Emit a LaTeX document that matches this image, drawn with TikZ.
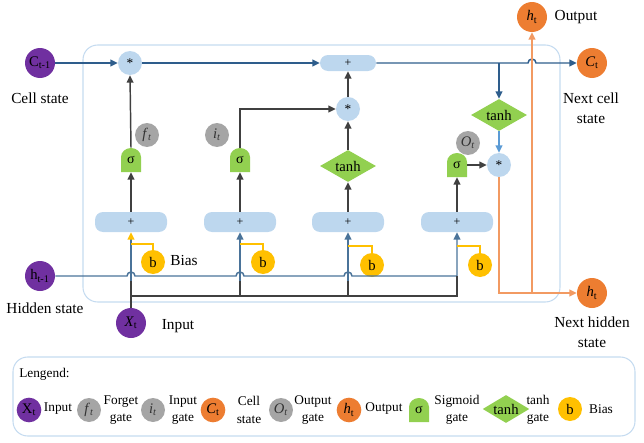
\documentclass[tikz,border=0pt]{standalone}
\usepackage{fontspec}
\setmainfont{Liberation Serif}
\usetikzlibrary{arrows.meta,shapes.geometric}
\definecolor{cpurple}{HTML}{7030A0}
\definecolor{corange}{HTML}{ED7D31}
\definecolor{cgray}{HTML}{A5A5A5}
\definecolor{clblue}{HTML}{BDD7EE}
\definecolor{cgreen}{HTML}{92D050}
\definecolor{cyellow}{HTML}{FFC000}
\definecolor{cbox}{HTML}{C5DBF0}
\definecolor{ccell}{HTML}{2E5D8C}
\definecolor{chid}{HTML}{4A7399}
\definecolor{cblack}{HTML}{404040}
\definecolor{carrowblue}{HTML}{5B9BD5}
\definecolor{corline}{HTML}{F29A62}
\newcommand\sigshape[2]{\fill[cgreen] (#1-10,#2+12) -- (#1-10,#2-3) arc(180:360:10 and 9) -- (#1+10,#2+12) -- cycle;}
\begin{document}
\begin{tikzpicture}[x=0.75pt,y=-0.75pt,
 tip/.style={-{Triangle[length=5.5pt,width=5pt]}},
 big/.style={circle,minimum size=22.5pt,inner sep=0pt,font=\fontsize{11}{12}\selectfont},
 gatec/.style={circle,minimum size=18pt,inner sep=0pt,fill=cgray,text=black!80,font=\fontsize{11}{12}\selectfont},
 opc/.style={circle,fill=clblue,minimum size=18pt,inner sep=0pt,font=\fontsize{10}{10}\selectfont},
 sumbox/.style={rectangle,rounded corners=6pt,fill=clblue,minimum width=#1,minimum height=15pt,inner sep=0pt,font=\fontsize{9}{10}\selectfont},
 sig/.style={minimum width=15pt,minimum height=18pt,inner sep=0pt,font=\fontsize{10.5}{11}\selectfont},
 dia/.style={diamond,aspect=1.75,fill=cgreen,minimum width=42pt,minimum height=24pt,inner sep=0pt,font=\fontsize{11}{12}\selectfont},
 bias/.style={circle,fill=cyellow,minimum size=18pt,inner sep=0pt,font=\fontsize{11}{12}\selectfont},
 lbl/.style={font=\fontsize{11.5}{15}\selectfont,align=center,inner sep=0pt},
 lgd/.style={font=\fontsize{10}{13}\selectfont,align=center,inner sep=0pt},
 cellln/.style={draw=ccell,line width=1.1pt},
 hidln/.style={draw=chid,line width=1.1pt},
 blk/.style={draw=cblack,line width=1.1pt},
 yel/.style={draw=cyellow,line width=0.9pt},
 org/.style={draw=corline,line width=1.1pt},
]
\useasboundingbox (0,0) rectangle (644,443);
% boxes
\draw[cbox,line width=0.8pt,rounded corners=11pt] (83,45) rectangle (560,302);
\draw[cbox,line width=0.8pt,rounded corners=11pt] (13,357) rectangle (635,436);

% outer nodes
\node[big,fill=cpurple] (ct1) at (40,63) {C\textsubscript{t-1}};
\node[lbl] (lcs) at (40,98) {Cell state};
\node[big,fill=cpurple] (hm1) at (40,276) {h\textsubscript{t-1}};
\node[lbl] (lhs) at (45,308) {Hidden state};
\node[big,fill=cpurple] (xt) at (131,323) {\textit{X}\textsubscript{t}};
\node[lbl] (lin) at (178,326) {Input};
\node[big,fill=corange] (ct) at (592,63) {\textit{C}\textsubscript{t}};
\node[lbl] (lnc) at (591,108) {Next cell\\state};
\node[big,fill=corange] (hto) at (532,17) {\textit{h}\textsubscript{t}};
\node[lbl] (lout) at (576,17) {Output};
\node[big,fill=corange] (htn) at (592,293) {\textit{h}\textsubscript{t}};
\node[lbl] (lnh) at (592,332) {Next hidden\\state};

% operations
\node[opc] (m1) at (130,63) {*};
\node[sumbox=42pt,minimum height=12pt] (plus) at (348,63) {+};
\node[opc] (m2) at (348,109) {*};
\node[dia] (th2) at (499,115) {tanh};
\node[opc] (m3) at (499,165) {*};
\node[gatec] (ot) at (468,143) {\textit{O}\textsubscript{\textit{t}}};
\node[gatec] (ft) at (147,135) {\textit{f}\textsubscript{\textit{t}}};
\node[gatec] (it) at (217,135) {\textit{i}\textsubscript{\textit{t}}};

\sigshape{131}{160}
\node[sig] (s1) at (131,160) {σ};
\sigshape{240}{160}
\node[sig] (s2) at (240,160) {σ};
\node[dia] (th1) at (348,166) {tanh};
\sigshape{457}{165}
\node[sig] (s3) at (457,165) {σ};

\node[sumbox=54pt] (p1) at (131,222) {+};
\node[sumbox=54pt] (p2) at (240,222) {+};
\node[sumbox=54pt] (p3) at (348,222) {+};
\node[sumbox=54pt] (p4) at (457,222) {+};

\node[bias] (b1) at (153,262) {b};
\node[bias] (b2) at (263,262) {b};
\node[bias] (b3) at (372,265) {b};
\node[bias] (b4) at (480,265) {b};
\node[lbl] (lbias) at (184,260) {Bias};

% junction coordinates
\coordinate (hy) at (0,276);
\coordinate (iy) at (0,296);
\coordinate (ty) at (0,281);

% cell state line
\draw[cellln,tip] (ct1.east) -- (m1.west);
\draw[cellln,tip] (m1.east) -- (plus.west);
\draw[cellln,tip] (plus.east) -- (528,63) arc(180:360:4) -- (ct.west);
\draw[cellln,tip] (th2.north |- plus) -- (th2.north);

% hidden state line
\draw[hidln,tip] (hm1.east) -- (127,276) arc(180:360:4) -- (236,276) arc(180:360:4) -- (344,276) arc(180:360:4) -- (p4.south |- hy) -- (p4.south);

% input lines
\draw[blk] (xt.north) -- (p1.south |- ty);
\draw[blk] (p1.south |- iy) -- (p4.south |- iy) -- (p4.south |- hy);
\draw[blk] (p2.south |- iy) -- (p2.south |- ty);
\draw[blk] (p3.south |- iy) -- (p3.south |- ty);
\draw[hidln,-{Triangle[length=5.5pt,width=5pt,color=cyellow]}] (p1.south |- ty) -- (p1.south);
\draw[hidln,tip] (p2.south |- ty) -- (p2.south);
\draw[hidln,tip] (p3.south |- ty) -- (p3.south);

% bias lines
\draw[yel] (b1.north) |- (131,244);
\draw[yel] (b2.north) |- (240,244);
\draw[yel] (b3.north) |- (348,246);
\draw[yel] (b4.north) |- (457,246);

% gate arrows
\draw[blk,tip] (p1.north) -- (s1.south);
\draw[blk,tip] (p2.north) -- (s2.south);
\draw[blk,tip] (p3.north) -- (th1.south);
\draw[blk,tip] (p4.north) -- (s3.south);
\draw[blk,tip] (s1.north) -- (m1.south);
\draw[blk,tip] (s2.north) |- (m2.west);
\draw[blk,tip] (th1.north) -- (m2.south);
\draw[blk,tip] (m2.north) -- (plus.south);
\draw[blk,tip] (s3.east) -- (m3.west);
\draw[draw=carrowblue,line width=1.1pt,tip] (th2.south) -- (m3.north);

% output lines
\draw[org,tip] (m3.south) |- (htn.west);
\draw[org,tip] (hto |- htn) -- (hto.south);

% legend
\node[lgd,anchor=west] (lg) at (19,374) {Lengend:};
\node[big,fill=cpurple,minimum size=18.5pt] (lx) at (29,410) {X\textsubscript{t}};
\node[lgd] (lxl) at (58,409) {Input};
\node[gatec] (lf) at (89,410) {\textit{f}\textsubscript{\textit{t}}};
\node[lgd] (lfl) at (121,410) {Forget\\gate};
\node[gatec] (li) at (153,410) {\textit{i}\textsubscript{\textit{t}}};
\node[lgd] (lil) at (183,410) {Input\\gate};
\node[big,fill=corange,minimum size=18.5pt] (lc) at (213,410) {\textit{C}\textsubscript{t}};
\node[lgd] (lcl) at (249,410) {Cell\\state};
\node[gatec] (lo) at (281,410) {\textit{O}\textsubscript{\textit{t}}};
\node[lgd] (lol) at (313,410) {Output\\gate};
\node[big,fill=corange,minimum size=18.5pt] (lh) at (349,410) {\textit{h}\textsubscript{t}};
\node[lgd] (lhl) at (384,409) {Output};
\sigshape{419}{410}
\node[sig] (ls) at (419,410) {σ};
\node[lgd] (lsl) at (457,410) {Sigmoid\\gate};
\node[dia,minimum width=35pt,minimum height=21pt] (lt) at (506,409) {tanh};
\node[lgd] (ltl) at (538,410) {tanh\\gate};
\node[bias] (lb) at (570,409) {b};
\node[lgd] (lbl) at (601,409) {Bias};
\end{tikzpicture}
\end{document}
